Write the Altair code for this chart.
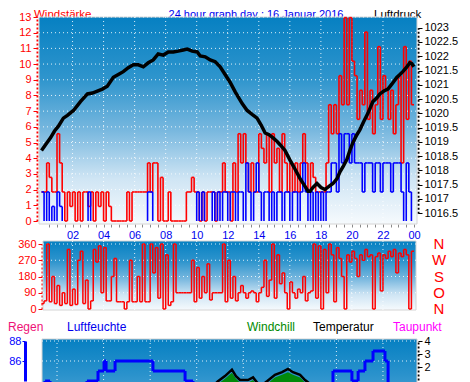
import altair as alt
import pandas as pd

# ---------------- data ----------------
# 10-minute slots (hour of day)
slot_hours = [i / 6 for i in range(144)]

# wind gust (red) km/h, one value per 10-minute slot
gust = [1.85, 1.85, 3.70, 2.78, 1.85, 1.85, 5.56, 3.70, 1.85, 0.00,
        1.85, 0.93, 1.85, 0.00, 1.85, 0.00, 1.85, 1.85, 0.93, 1.85,
        0.00, 1.85, 0.93, 1.85, 0.00, 1.85, 0.93, 0.00, 0.00, 0.00,
        0.00, 0.00, 0.00, 1.85, 0.00, 1.85, 1.85, 1.85, 1.85, 1.85,
        1.85, 3.70, 1.85, 3.70, 3.70, 0.00, 2.78, 0.00, 0.00, 1.85,
        0.00, 0.00, 0.00, 0.00, 0.00, 0.00, 1.85, 1.85, 2.78, 1.85,
        1.85, 0.00, 1.85, 0.00, 1.85, 1.85, 1.85, 0.00, 1.85, 1.85,
        3.70, 1.85, 1.85, 0.00, 3.70, 1.85, 5.56, 3.70, 5.56, 3.70,
        1.85, 3.70, 1.85, 1.85, 5.56, 4.63, 3.70, 5.56, 1.85, 5.56,
        3.70, 4.63, 1.85, 5.56, 3.70, 1.85, 3.70, 1.85, 3.70, 1.85,
        3.70, 5.56, 3.70, 1.85, 3.70, 2.78, 1.85, 1.85, 1.85, 1.85,
        3.70, 7.41, 5.56, 7.41, 5.56, 9.26, 7.41, 12.96, 7.41, 12.96,
        10.19, 9.26, 6.48, 8.33, 7.41, 12.04, 6.48, 8.33, 5.56, 7.41,
        11.11, 6.48, 9.26, 8.33, 6.48, 8.33, 5.56, 7.41, 9.26, 3.70,
        11.11, 6.48, 10.19, 7.41]

# mean wind (blue) km/h, one value per 10-minute slot
wind = [1.85, 0.00, 1.85, 0.00, 0.93, 0.00, 1.85, 0.93, 0.00, 0.00,
        0.00, 0.00, 0.00, 0.00, 0.00, 0.00, 0.00, 0.00, 1.85, 0.00,
        0.00, 0.00, 0.00, 0.00, 0.00, 0.00, 0.00, 0.00, 0.00, 0.00,
        0.00, 0.00, 0.00, 0.00, 0.00, 0.00, 0.00, 0.00, 0.00, 0.00,
        0.00, 1.85, 1.85, 0.00, 0.00, 0.00, 0.00, 0.00, 0.00, 0.00,
        0.00, 0.00, 0.00, 0.00, 0.00, 0.00, 0.00, 0.00, 0.00, 0.00,
        1.85, 0.00, 1.85, 0.00, 0.00, 0.00, 1.85, 0.00, 1.85, 0.00,
        1.85, 1.85, 0.00, 1.85, 1.85, 0.00, 1.85, 1.85, 0.00, 3.70,
        1.85, 0.00, 1.85, 3.70, 1.85, 0.00, 1.85, 1.85, 0.00, 1.85,
        0.00, 1.85, 1.85, 0.00, 1.85, 1.85, 0.00, 1.85, 1.85, 0.00,
        1.85, 3.70, 1.85, 0.00, 1.85, 0.00, 1.85, 0.00, 1.85, 0.00,
        1.85, 1.85, 3.70, 3.70, 1.85, 5.56, 3.70, 5.56, 5.56, 3.70,
        5.56, 3.70, 3.70, 3.70, 1.85, 3.70, 3.70, 3.70, 1.85, 3.70,
        3.70, 1.85, 3.70, 3.70, 3.70, 1.85, 3.70, 3.70, 3.70, 1.85,
        0.00, 3.70, 1.85, 0.00]

# wind direction (degrees), one value per 10-minute slot
direction = [30, 45, 360, 40, 180, 30, 130, 20, 90, 30,
             330, 20, 110, 25, 270, 320, 30, 160, 0, 45,
             330, 260, 350, 90, 340, 45, 45, 180, 280, 40,
             40, 40, 0, 40, 270, 40, 40, 180, 40, 360,
             40, 40, 360, 200, 340, 60, 360, 0, 300, 20,
             40, 360, 90, 90, 90, 90, 90, 90, 270, 40,
             230, 60, 180, 90, 250, 50, 90, 90, 90, 90,
             360, 40, 270, 60, 180, 45, 90, 130, 90, 60,
             90, 100, 90, 40, 90, 120, 270, 70, 160, 360,
             60, 300, 140, 200, 90, 0, 150, 90, 60, 110,
             90, 180, 45, 90, 100, 360, 60, 350, 0, 330,
             90, 360, 300, 40, 340, 280, 180, 0, 300, 260,
             320, 280, 180, 300, 270, 330, 290, 300, 0, 290,
             310, 100, 300, 280, 320, 290, 330, 200, 310, 290,
             330, 300, 0, 320]

# air pressure (hPa)
press_h = [0.00, 0.26, 0.58, 0.84, 1.09, 1.41, 1.67, 2.06, 2.51, 2.96,
           3.28, 3.60, 3.92, 4.24, 4.63, 4.95, 5.27, 5.59, 5.92, 6.24,
           6.56, 6.88, 7.20, 7.52, 7.85, 8.17, 8.49, 8.81, 9.13, 9.39,
           9.71, 10.03, 10.23, 10.55, 10.87, 11.19, 11.51, 11.83, 12.15, 12.48,
           12.93, 13.25, 13.57, 13.89, 14.15, 14.41, 14.66, 14.92, 15.18, 15.37,
           15.69, 16.01, 16.33, 16.66, 16.98, 17.17, 17.30, 17.49, 17.75, 18.01,
           18.26, 18.52, 18.78, 19.04, 19.23, 19.42, 19.68, 19.87, 20.06, 20.32,
           20.51, 20.77, 21.03, 21.35, 21.61, 21.80, 22.06, 22.32, 22.57, 22.89,
           23.09, 23.28, 23.54, 23.73, 23.86, 23.99]
press_v = [1018.70, 1018.90, 1019.14, 1019.38, 1019.55, 1019.83, 1019.93, 1020.10, 1020.41, 1020.68,
           1020.71, 1020.78, 1020.85, 1020.95, 1021.26, 1021.36, 1021.46, 1021.60, 1021.70, 1021.70,
           1021.63, 1021.77, 1021.87, 1022.08, 1022.04, 1022.15, 1022.15, 1022.18, 1022.22, 1022.25,
           1022.18, 1022.15, 1022.01, 1021.98, 1021.87, 1021.81, 1021.63, 1021.36, 1021.09, 1020.75,
           1020.34, 1020.10, 1019.96, 1019.83, 1019.59, 1019.31, 1019.25, 1019.14, 1019.01, 1018.90,
           1018.70, 1018.36, 1018.05, 1017.71, 1017.44, 1017.27, 1017.27, 1017.40, 1017.54, 1017.40,
           1017.33, 1017.44, 1017.54, 1017.71, 1017.95, 1018.12, 1018.39, 1018.70, 1018.97, 1019.25,
           1019.42, 1019.72, 1020.00, 1020.41, 1020.54, 1020.68, 1020.78, 1020.85, 1021.02, 1021.26,
           1021.36, 1021.46, 1021.63, 1021.77, 1021.74, 1021.63]

# humidity (%), change points
hum_t = [0, 0.23, 0.55, 2.93, 3.64, 4.03, 4.16, 4.74, 7.18, 9.25, 9.76,
         18.78, 20.0, 20.4, 20.84, 21.36, 22.13, 22.33]
hum_v = [83, 84, 83, 84, 85, 86, 85, 86, 85, 84, 82,
         85, 84, 85, 86, 87, 86, 83]

# temperature / windchill (deg C)
temp_h = [0, 11.0, 11.37, 11.82, 12.27, 12.53, 12.79, 13.3, 13.63, 13.89, 14.2,
          14.53, 15.04, 15.5, 15.88, 16.2, 16.66, 16.98, 17.3, 18.0, 24]
temp_v = [0.2, 0.5, 0.9, 1.3, 1.8, 1.3, 1.0, 1.0, 1.2, 0.8, 0.6,
          0.9, 1.4, 1.6, 1.85, 1.6, 1.4, 1.0, 0.7, 0.3, -0.5]
chill_v = [0.0, 0.3, 0.7, 1.1, 1.55, 1.1, 0.8, 0.8, 1.0, 0.6, 0.4,
           0.7, 1.2, 1.4, 1.6, 1.4, 1.2, 0.8, 0.5, 0.1, -0.7]

compass_deg = [0, 90, 180, 270, 360]
compass_lbl = ["N", "O", "S", "W", "N"]

# ---------------- helpers ----------------
def step_segments(times, values, end, keep_zero=True):
    rows = []
    for i, v in enumerate(values):
        t0 = times[i]
        t1 = times[i + 1] if i + 1 < len(times) else end
        if i > 0 and values[i - 1] != v:
            rows.append({"t": t0, "t2": t0, "v": values[i - 1], "v2": v})
        if keep_zero or v > 0:
            rows.append({"t": t0, "t2": t1, "v": v, "v2": v})
    return pd.DataFrame(rows)

FONT = "Liberation Sans"
W, H = 454, 374
XS = alt.Scale(domain=[0, 24], range=[33.5, 406], nice=False, zero=False)
WIND_S = alt.Scale(domain=[0, 13], range=[213, 9], nice=False, zero=False)
PRESS_S = alt.Scale(domain=[1016.5, 1023], range=[205.2, 19.7], nice=False, zero=False)
DIR_S = alt.Scale(domain=[0, 360], range=[301, 236], nice=False, zero=False)
HUM_S = alt.Scale(domain=[84, 88], range=[373, 333], nice=False, zero=False)
TEMP_S = alt.Scale(domain=[1, 4], range=[372, 333], nice=False, zero=False)

one = pd.DataFrame({"a": [0]})


def grad(stops):
    return alt.LinearGradient(
        gradient="linear",
        stops=[alt.GradientStop(color=c, offset=o) for o, c in stops],
        x1=0, x2=0, y1=0, y2=1)


def panel(x1, x2, y1, y2, stops):
    return alt.Chart(one).mark_rect(fill=grad(stops), stroke="#d4d4d4", strokeWidth=1).encode(
        x=alt.value(x1), x2=alt.value(x2), y=alt.value(y1), y2=alt.value(y2))


def text(s, x, y, color, size=13, align="left"):
    return alt.Chart(one).mark_text(text=s, font=FONT, fontSize=size, color=color,
                                    align=align, baseline="alphabetic").encode(
        x=alt.value(x), y=alt.value(y))


top_stops = [(0, "#0680c2"), (0.3, "#2f95cd"), (0.55, "#79b8df"), (0.78, "#cfe5f4"), (1, "#f6fafd")]
bg1 = panel(31, 409, 9, 216, top_stops)
bg2 = panel(35, 408, 233, 302, top_stops)
bg3 = panel(34, 409, 331, 420, [(0, "#0680c2"), (0.4, "#2a92cc"), (1, "#6fb3dd")])

dot = dict(color="white", strokeDash=[1, 3], strokeWidth=1, opacity=0.85)

# grids
g1h = alt.Chart(pd.DataFrame({"v": list(range(1, 14))})).mark_rule(**dot).encode(
    y=alt.Y("v:Q", scale=WIND_S, axis=None), x=alt.value(31), x2=alt.value(409))
g1v = alt.Chart(pd.DataFrame({"h": list(range(2, 24, 2))})).mark_rule(**dot).encode(
    x=alt.X("h:Q", scale=XS, axis=None), y=alt.value(9), y2=alt.value(216))
g2h = alt.Chart(pd.DataFrame({"v": [90, 180, 270, 360]})).mark_rule(**dot).encode(
    y=alt.Y("v:Q", scale=DIR_S, axis=None), x=alt.value(35), x2=alt.value(408))
g2v = alt.Chart(pd.DataFrame({"h": list(range(2, 24, 2))})).mark_rule(**dot).encode(
    x=alt.X("h:Q", scale=XS, axis=None), y=alt.value(233), y2=alt.value(302))
g3h = alt.Chart(pd.DataFrame({"v": [86, 88]})).mark_rule(**dot).encode(
    y=alt.Y("v:Q", scale=HUM_S, axis=None), x=alt.value(34), x2=alt.value(409))
g3v = alt.Chart(pd.DataFrame({"h": list(range(1, 24, 3))})).mark_rule(**dot).encode(
    x=alt.X("h:Q", scale=XS, axis=None), y=alt.value(331), y2=alt.value(420))

# x axis (hours) under the top panel
hour_axis = alt.Axis(
    orient="bottom", offset=216 - H, values=[i / 2 for i in range(1, 49)],
    labelExpr="datum.value % 2 == 0 ? (datum.value == 24 ? '00' : (datum.value < 10 ? '0' + datum.value : '' + datum.value)) : ''",
    labelOverlap=False, labelFlush=False, labelBound=False,
    tickColor="#8a8a8a", tickSize=3, domain=False, grid=False, labelColor="#0000ee",
    labelFont=FONT, labelFontSize=11, labelPadding=2, title=None)

# gust (red)
gust_df = step_segments(slot_hours, gust, 24, keep_zero=True)
gust_l = alt.Chart(gust_df).mark_rule(color="#ff0000", strokeWidth=1.6).encode(
    x=alt.X("t:Q", scale=XS, axis=hour_axis), x2="t2:Q",
    y=alt.Y("v:Q", scale=WIND_S, axis=alt.Axis(
        orient="left", offset=-29, values=list(range(0, 14)), title=None, grid=False,
        domainColor="#ff0000", domainDash=[2, 2], domainWidth=2, tickColor="#ff0000", tickSize=4,
        labelColor="#ff0000", labelFont=FONT, labelFontSize=11, labelPadding=2)),
    y2="v2:Q")

wind_df = step_segments(slot_hours, wind, 24, keep_zero=False)
wind_l = alt.Chart(wind_df).mark_rule(color="#0000ff", strokeWidth=1.6).encode(
    x=alt.X("t:Q", scale=XS, axis=None), x2="t2:Q",
    y=alt.Y("v:Q", scale=WIND_S, axis=None), y2="v2:Q")

press_l = alt.Chart(pd.DataFrame({"h": press_h, "p": press_v})).mark_line(
    color="black", strokeWidth=3.5).encode(
    x=alt.X("h:Q", scale=XS, axis=None),
    y=alt.Y("p:Q", scale=PRESS_S, axis=alt.Axis(
        orient="right", offset=410 - W, values=[1016.5 + 0.5 * k for k in range(14)],
        format=".1~f", title=None, grid=False, domainColor="black", domainDash=[2, 2],
        domainWidth=2, tickColor="black", tickSize=4, labelColor="black", labelFont=FONT,
        labelFontSize=11, labelPadding=2)))

# wind direction
dir_df = step_segments(slot_hours, direction, 24, keep_zero=True)
dir_l = alt.Chart(dir_df).mark_rule(color="#ff0000", strokeWidth=1.5).encode(
    x=alt.X("t:Q", scale=XS, axis=None), x2="t2:Q",
    y=alt.Y("v:Q", scale=DIR_S, axis=alt.Axis(
        orient="left", offset=-34, values=[0, 90, 180, 270, 360], title=None, grid=False,
        domainColor="#ff0000", domainDash=[2, 2], domainWidth=2, tickColor="#ff0000", tickSize=4,
        labelColor="#ff0000", labelFont=FONT, labelFontSize=11, labelPadding=2)),
    y2="v2:Q")

compass = alt.Chart(pd.DataFrame({"d": compass_deg, "lbl": compass_lbl})).mark_text(
    font=FONT, fontSize=15, color="#ff0000", align="center", baseline="middle").encode(
    x=alt.value(431), y=alt.Y("d:Q", scale=DIR_S, axis=None), text="lbl:N")

# bottom panel
chill_a = alt.Chart(pd.DataFrame({"h": temp_h, "c": chill_v})).mark_area(
    color="#008a00", opacity=0.95).encode(
    x=alt.X("h:Q", scale=XS, axis=None),
    y=alt.Y("c:Q", scale=TEMP_S, axis=None), y2=alt.value(420))

temp_l = alt.Chart(pd.DataFrame({"h": temp_h, "t": temp_v})).mark_line(
    color="black", strokeWidth=2.5).encode(
    x=alt.X("h:Q", scale=XS, axis=None),
    y=alt.Y("t:Q", scale=TEMP_S, axis=alt.Axis(
        orient="right", offset=410 - W, values=[2, 3, 4], format="d", title=None, grid=False,
        domainColor="black", domainDash=[2, 2], domainWidth=2, tickColor="black", tickSize=4,
        labelColor="black", labelFont=FONT, labelFontSize=11, labelPadding=2)))

hum_df = step_segments(hum_t, hum_v, 24, keep_zero=True)
hum_l = alt.Chart(hum_df).mark_rule(color="#0000ff", strokeWidth=3).encode(
    x=alt.X("t:Q", scale=XS, axis=None), x2="t2:Q",
    y=alt.Y("v:Q", scale=HUM_S, axis=alt.Axis(
        orient="left", offset=-17, values=[86, 88], title=None, grid=False,
        domainColor="#0000ff", domainWidth=3, tickColor="#0000ff", tickSize=3,
        labelColor="#0000ff", labelFont=FONT, labelFontSize=11, labelPadding=1)),
    y2="v2:Q")

titles = [
    text("Windstärke", 26, 10, "#ff0000", size=11.5),
    text("24 hour graph day : 16 Januar 2016", 248, 10, "#0000ee", size=11, align="center"),
    text("Luftdruck", 366, 10, "black", size=11.5),
]
legend_texts = [
    text("Regen", 0, 323, "#ee1177", size=12),
    text("Luftfeuchte", 59, 323, "#0000ee", size=12),
    text("Windchill", 239, 323, "#008a00", size=12),
    text("Temperatur", 305, 323, "black", size=12),
    text("Taupunkt", 385, 323, "#ff00ff", size=12),
]

chart = alt.layer(
    *titles, bg1, bg2, bg3, g1h, g1v, g2h, g2v, g3h, g3v,
    gust_l, wind_l, press_l, dir_l, compass, chill_a, temp_l, hum_l, *legend_texts
).resolve_scale(y="independent").resolve_axis(y="independent", x="independent").properties(
    width=W, height=H, autosize="none", padding=0, background="white"
).configure_view(stroke=None)

chart.save("out.html", embed_options={"renderer": "svg", "actions": False})
